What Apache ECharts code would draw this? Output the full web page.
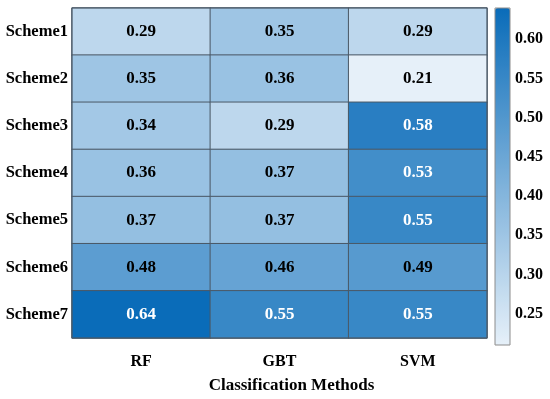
<!DOCTYPE html>
<html><head><meta charset="utf-8">
<script src="https://cdn.jsdelivr.net/npm/echarts@6/dist/echarts.min.js"></script>
<style>html,body{margin:0;padding:0;background:#fff}#c{width:550px;height:399px}</style>
</head><body><div id="c"></div>
<script>
const methods = ['RF', 'GBT', 'SVM'];
const schemes = ['Scheme1', 'Scheme2', 'Scheme3', 'Scheme4', 'Scheme5', 'Scheme6', 'Scheme7'];
const rfValues  = [0.29, 0.35, 0.34, 0.36, 0.37, 0.48, 0.64];
const gbtValues = [0.35, 0.36, 0.29, 0.37, 0.37, 0.46, 0.55];
const svmValues = [0.29, 0.21, 0.58, 0.53, 0.55, 0.49, 0.55];
const colorMin = 0.21, colorMax = 0.64;
const colorbarTicks = [0.25, 0.30, 0.35, 0.40, 0.45, 0.50, 0.55, 0.60];

const FONT = '"Liberation Serif", "Times New Roman", serif';
const cols = [rfValues, gbtValues, svmValues];
const data = [];
cols.forEach((arr, i) => arr.forEach((v, j) => {
  data.push({ value: [i, j, v], label: { color: v >= 0.5 ? '#ffffff' : '#000000' } });
}));

const chart = echarts.init(document.getElementById('c'));
chart.setOption({
  animation: false,
  textStyle: { fontFamily: FONT },
  grid: [
    { left: 72, top: 8, width: 415, height: 338, show: true, borderColor: '#4a5866', borderWidth: 1, backgroundColor: 'transparent', z: 10 },
    { left: 495, top: 8, width: 15, height: 337, show: true, borderColor: '#8c8c8c', borderWidth: 1, backgroundColor: 'transparent', z: 10 }
  ],
  xAxis: [
    { type: 'category', data: methods, gridIndex: 0, position: 'bottom',
      axisLine: { show: false }, axisTick: { show: false }, splitLine: { show: false },
      axisLabel: { fontFamily: FONT, fontWeight: 'bold', fontSize: 16, color: '#000', margin: 16 },
      name: 'Classification Methods', nameLocation: 'middle', nameGap: 39,
      nameTextStyle: { fontFamily: FONT, fontWeight: 'bold', fontSize: 17, color: '#000', padding: [0, 0, 0, 24] } },
    { type: 'value', gridIndex: 1, show: false, min: 0, max: 1 }
  ],
  yAxis: [
    { type: 'category', data: schemes, gridIndex: 0, inverse: true,
      axisLine: { show: false }, axisTick: { show: false }, splitLine: { show: false },
      axisLabel: { fontFamily: FONT, fontWeight: 'bold', fontSize: 16.5, color: '#000', margin: 4 } },
    { type: 'value', gridIndex: 1, position: 'right', min: colorMin, max: colorMax,
      axisLine: { show: false }, splitLine: { show: false },
      axisTick: { show: true, length: 3, inside: false, customValues: colorbarTicks, lineStyle: { color: '#8c8c8c' } },
      axisLabel: { show: true, customValues: colorbarTicks, formatter: v => v.toFixed(2),
        fontFamily: FONT, fontWeight: 'bold', fontSize: 16, color: '#000', margin: 5 } }
  ],
  visualMap: {
    type: 'continuous', min: colorMin, max: colorMax, calculable: false,
    seriesIndex: 0, orient: 'vertical', left: 495, top: 8, padding: 0,
    itemWidth: 15, itemHeight: 337, showLabel: false, itemGap: 0,
    inRange: { color: ['#e6f0f9', '#0a6cb9'] },
    textStyle: { color: 'transparent' }
  },
  series: [{
    type: 'heatmap', xAxisIndex: 0, yAxisIndex: 0, data: data,
    itemStyle: { borderColor: '#4a5866', borderWidth: 1 },
    label: { show: true, formatter: p => p.value[2].toFixed(2), fontFamily: FONT, fontWeight: 'bold', fontSize: 17 },
    emphasis: { disabled: true }
  }]
});
</script>
</body></html>
